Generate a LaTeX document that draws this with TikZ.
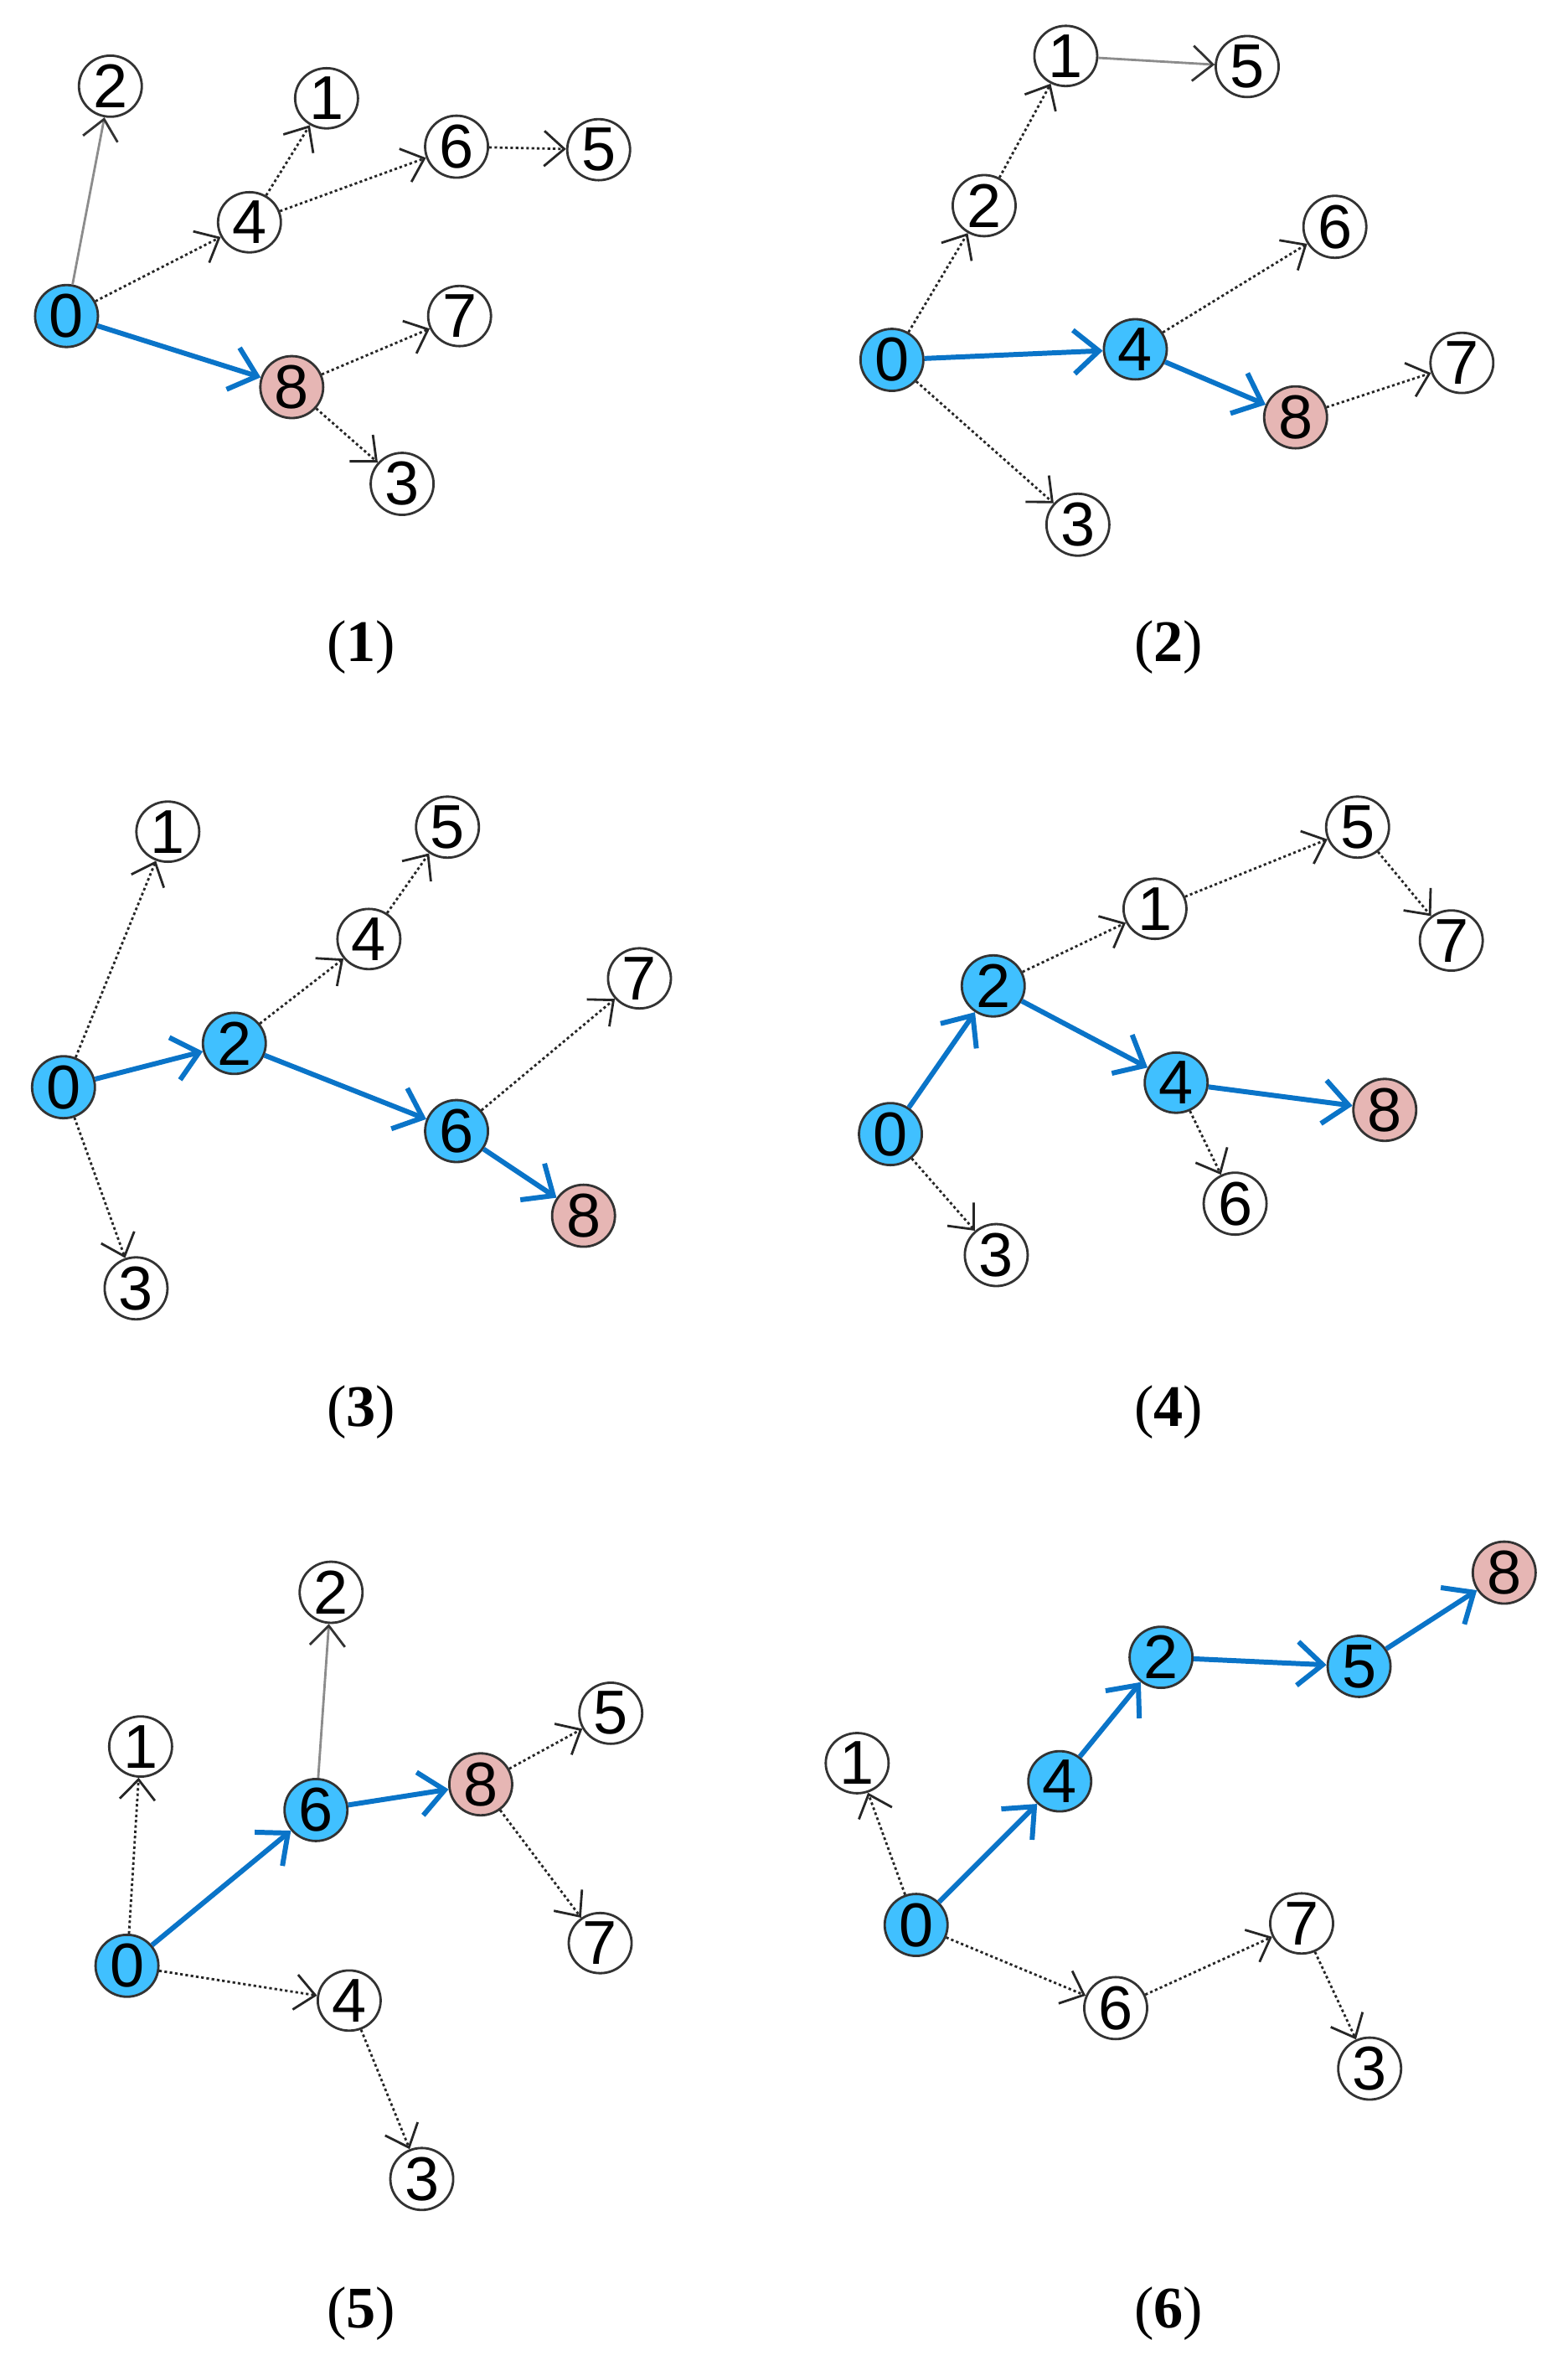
\documentclass[tikz,border=0pt]{standalone}
\usepackage{fontspec}
\setmainfont{Liberation Serif}
\newfontfamily\nodefam{Liberation Sans}
\usetikzlibrary{shapes.geometric,arrows.meta}
\definecolor{nodeblue}{HTML}{40C0FF}
\definecolor{nodepink}{HTML}{E6B6B4}
\definecolor{pathblue}{HTML}{0A74C8}
\tikzset{
  nd/.style={ellipse, draw=black!80, line width=0.8pt, minimum width=0.75cm, minimum height=0.7cm, inner sep=0pt, fill=white, font=\nodefam\fontsize{21}{21}\selectfont},
  bl/.style={nd, fill=nodeblue},
  pk/.style={nd, fill=nodepink},
  dotedge/.style={draw=black!85, line width=0.8pt, dash pattern=on 0.9pt off 0.9pt, -{Straight Barb[length=0.24cm,width=0.42cm,line width=0.8pt]}},
  solidedge/.style={draw=black!45, line width=0.8pt, -{Straight Barb[length=0.24cm,width=0.42cm,line width=0.8pt,color=black!80]}},
  bluedge/.style={draw=pathblue, line width=1.7pt, -{Straight Barb[length=0.3cm,width=0.52cm,line width=1.7pt]}},
  lab/.style={font=\fontsize{20}{24}\selectfont}
}
\begin{document}
\begin{tikzpicture}[x=0.018043cm, y=-0.018043cm]
\useasboundingbox (0,0) rectangle (1037,1568);
% ---------- panel 1
\node[bl] (a0) at (44,209) {0};
\node[nd] (a2) at (73,57) {2};
\node[nd] (a4) at (165,147) {4};
\node[nd] (a1) at (216,65) {1};
\node[nd] (a6) at (302,97) {6};
\node[nd] (a5) at (396,99) {5};
\node[nd] (a7) at (304,209) {7};
\node[pk] (a8) at (193,256) {8};
\node[nd] (a3) at (266,320) {3};
\draw[solidedge] (a0) -- (a2);
\draw[dotedge] (a0) -- (a4);
\draw[dotedge] (a4) -- (a1);
\draw[dotedge] (a4) -- (a6);
\draw[dotedge] (a6) -- (a5);
\draw[bluedge] (a0) -- (a8);
\draw[dotedge] (a8) -- (a7);
\draw[dotedge] (a8) -- (a3);
\node[lab] (l1) at (239,428) {(\textbf{1})};
% ---------- panel 2
\node[nd] (b1) at (705,37) {1};
\node[nd] (b5) at (825,44) {5};
\node[nd] (b2) at (651,136) {2};
\node[nd] (b6) at (883,150) {6};
\node[bl] (b0) at (590,238) {0};
\node[bl] (b4) at (751,231) {4};
\node[pk] (b8) at (857,276) {8};
\node[nd] (b7) at (967,240) {7};
\node[nd] (b3) at (713,347) {3};
\draw[dotedge] (b0) -- (b2);
\draw[dotedge] (b2) -- (b1);
\draw[solidedge] (b1) -- (b5);
\draw[bluedge] (b0) -- (b4);
\draw[dotedge] (b4) -- (b6);
\draw[bluedge] (b4) -- (b8);
\draw[dotedge] (b8) -- (b7);
\draw[dotedge] (b0) -- (b3);
\node[lab] (l2) at (773,428) {(\textbf{2})};
% ---------- panel 3
\node[nd] (c1) at (111,550) {1};
\node[nd] (c5) at (296,547) {5};
\node[nd] (c4) at (244,621) {4};
\node[nd] (c7) at (423,647) {7};
\node[bl] (c0) at (42,719) {0};
\node[bl] (c2) at (155,690) {2};
\node[bl] (c6) at (302,748) {6};
\node[pk] (c8) at (386,804) {8};
\node[nd] (c3) at (90,852) {3};
\draw[dotedge] (c0) -- (c1);
\draw[bluedge] (c0) -- (c2);
\draw[dotedge] (c2) -- (c4);
\draw[dotedge] (c4) -- (c5);
\draw[bluedge] (c2) -- (c6);
\draw[dotedge] (c6) -- (c7);
\draw[bluedge] (c6) -- (c8);
\draw[dotedge] (c0) -- (c3);
\node[lab] (l3) at (239,934) {(\textbf{3})};
% ---------- panel 4
\node[nd] (d5) at (898,547) {5};
\node[nd] (d1) at (764,601) {1};
\node[nd] (d7) at (960,622) {7};
\node[bl] (d2) at (657,652) {2};
\node[bl] (d4) at (778,716) {4};
\node[pk] (d8) at (916,734) {8};
\node[bl] (d0) at (589,750) {0};
\node[nd] (d6) at (817,796) {6};
\node[nd] (d3) at (659,830) {3};
\draw[bluedge] (d0) -- (d2);
\draw[dotedge] (d2) -- (d1);
\draw[dotedge] (d1) -- (d5);
\draw[dotedge] (d5) -- (d7);
\draw[bluedge] (d2) -- (d4);
\draw[bluedge] (d4) -- (d8);
\draw[dotedge] (d4) -- (d6);
\draw[dotedge] (d0) -- (d3);
\node[lab] (l4) at (773,934) {(\textbf{4})};
% ---------- panel 5
\node[nd] (e2) at (219,1053) {2};
\node[nd] (e1) at (93,1155) {1};
\node[nd] (e5) at (404,1133) {5};
\node[pk] (e8) at (318,1180) {8};
\node[bl] (e6) at (209,1197) {6};
\node[nd] (e7) at (397,1285) {7};
\node[bl] (e0) at (84,1300) {0};
\node[nd] (e4) at (231,1323) {4};
\node[nd] (e3) at (279,1441) {3};
\draw[dotedge] (e0) -- (e1);
\draw[bluedge] (e0) -- (e6);
\draw[solidedge] (e6) -- (e2);
\draw[bluedge] (e6) -- (e8);
\draw[dotedge] (e8) -- (e5);
\draw[dotedge] (e8) -- (e7);
\draw[dotedge] (e0) -- (e4);
\draw[dotedge] (e4) -- (e3);
\node[lab] (l5) at (239,1530) {(\textbf{5})};
% ---------- panel 6
\node[pk] (f8) at (995,1040) {8};
\node[bl] (f2) at (768,1096) {2};
\node[bl] (f5) at (899,1102) {5};
\node[nd] (f1) at (567,1166) {1};
\node[bl] (f4) at (701,1178) {4};
\node[bl] (f0) at (606,1273) {0};
\node[nd] (f7) at (861,1272) {7};
\node[nd] (f6) at (738,1328) {6};
\node[nd] (f3) at (906,1368) {3};
\draw[bluedge] (f0) -- (f4);
\draw[bluedge] (f4) -- (f2);
\draw[bluedge] (f2) -- (f5);
\draw[bluedge] (f5) -- (f8);
\draw[dotedge] (f0) -- (f1);
\draw[dotedge] (f0) -- (f6);
\draw[dotedge] (f6) -- (f7);
\draw[dotedge] (f7) -- (f3);
\node[lab] (l6) at (773,1530) {(\textbf{6})};
\end{tikzpicture}
\end{document}
